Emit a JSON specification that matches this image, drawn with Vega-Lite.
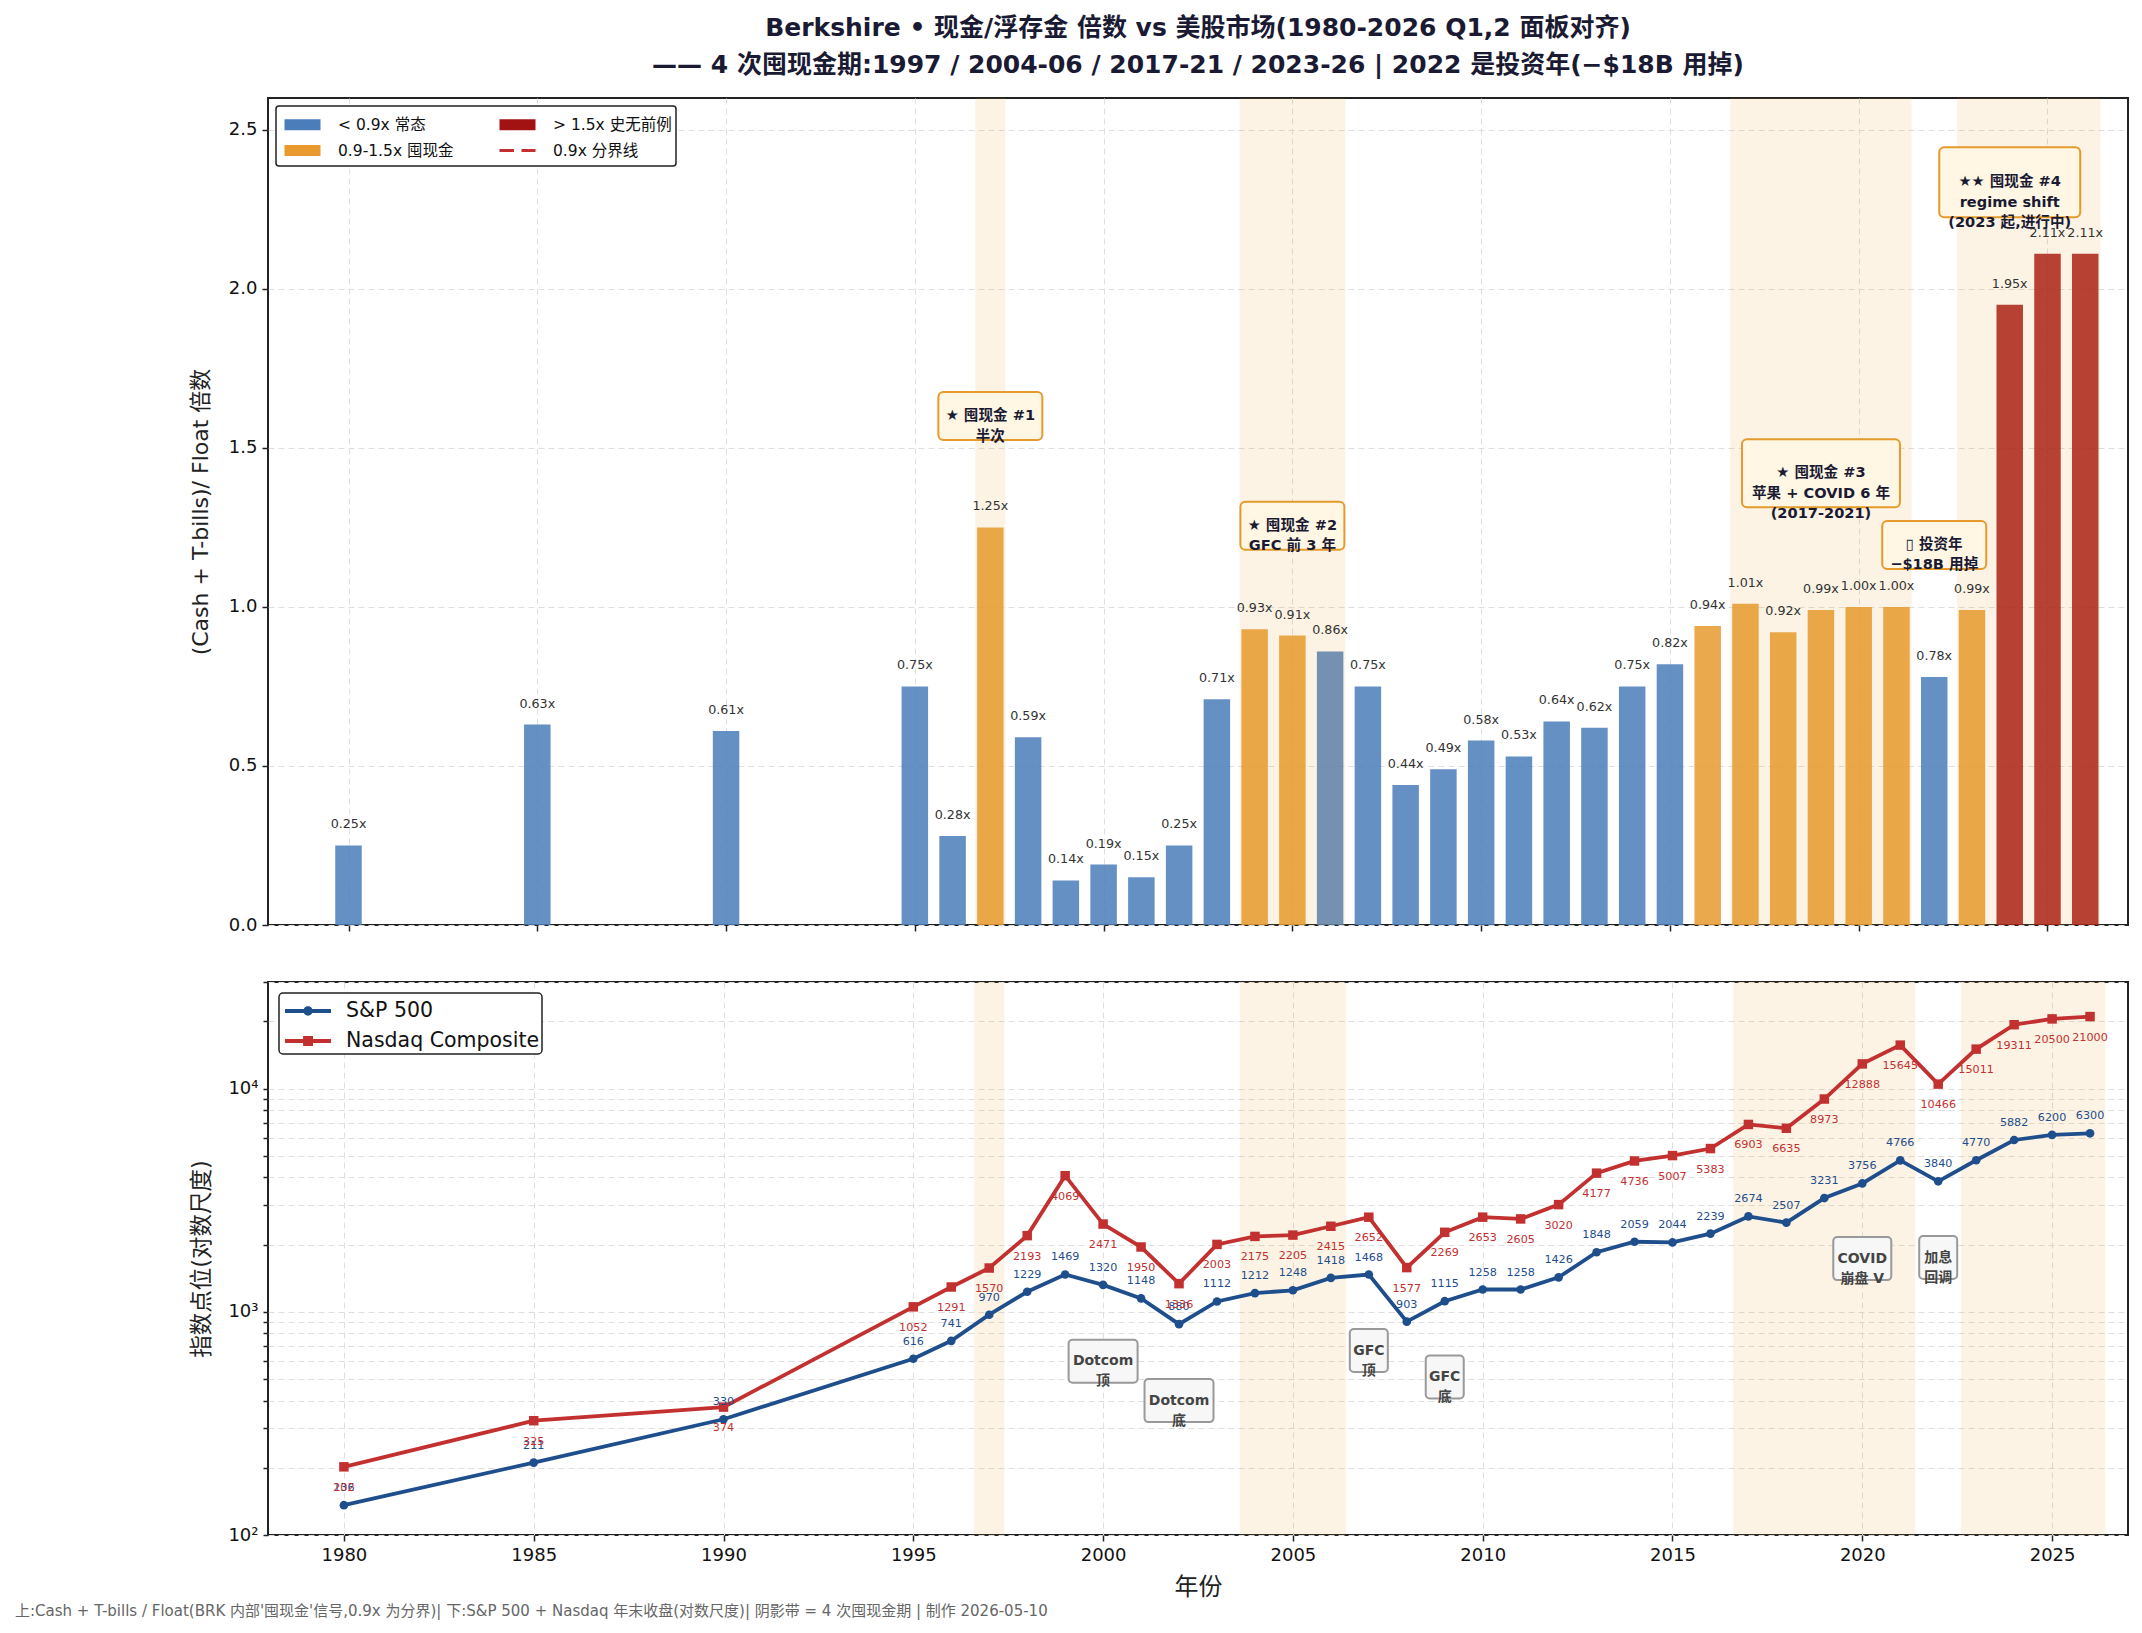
{
  "$schema": "https://vega.github.io/schema/vega-lite/v6.json",
  "background": "white",
  "padding": {"left": 15, "top": 15, "right": 15, "bottom": 8},
  "config": {
    "font": "DejaVu Sans, Noto Sans CJK SC",
    "view": {"stroke": "#222", "strokeWidth": 2},
    "axis": {"domain": false, "labelFontSize": 18, "labelColor": "#111", "titleFontSize": 22, "titleFontWeight": "normal", "titleColor": "#222", "tickColor": "#222", "tickWidth": 1.5, "tickSize": 6, "gridColor": "#dedede", "gridDash": [6, 4], "gridWidth": 1, "labelPadding": 5, "labelOverlap": false}
  },
  "title": {
    "text": "上:Cash + T-bills / Float(BRK 内部'囤现金'信号,0.9x 为分界)| 下:S&P 500 + Nasdaq 年末收盘(对数尺度)| 阴影带 = 4 次囤现金期 | 制作 2026-05-10",
    "orient": "bottom", "anchor": "start", "frame": "bounds", "fontSize": 15, "fontWeight": "normal", "color": "#666", "offset": 4, "dx": -173
  },
  "datasets": {
    "ratio": [
      {"year": 1980, "ratio": 0.25, "regime": "< 0.9x 常态"},
      {"year": 1985, "ratio": 0.63, "regime": "< 0.9x 常态"},
      {"year": 1990, "ratio": 0.61, "regime": "< 0.9x 常态"},
      {"year": 1995, "ratio": 0.75, "regime": "< 0.9x 常态"},
      {"year": 1996, "ratio": 0.28, "regime": "< 0.9x 常态"},
      {"year": 1997, "ratio": 1.25, "regime": "0.9-1.5x 囤现金"},
      {"year": 1998, "ratio": 0.59, "regime": "< 0.9x 常态"},
      {"year": 1999, "ratio": 0.14, "regime": "< 0.9x 常态"},
      {"year": 2000, "ratio": 0.19, "regime": "< 0.9x 常态"},
      {"year": 2001, "ratio": 0.15, "regime": "< 0.9x 常态"},
      {"year": 2002, "ratio": 0.25, "regime": "< 0.9x 常态"},
      {"year": 2003, "ratio": 0.71, "regime": "< 0.9x 常态"},
      {"year": 2004, "ratio": 0.93, "regime": "0.9-1.5x 囤现金"},
      {"year": 2005, "ratio": 0.91, "regime": "0.9-1.5x 囤现金"},
      {"year": 2006, "ratio": 0.86, "regime": "< 0.9x 常态"},
      {"year": 2007, "ratio": 0.75, "regime": "< 0.9x 常态"},
      {"year": 2008, "ratio": 0.44, "regime": "< 0.9x 常态"},
      {"year": 2009, "ratio": 0.49, "regime": "< 0.9x 常态"},
      {"year": 2010, "ratio": 0.58, "regime": "< 0.9x 常态"},
      {"year": 2011, "ratio": 0.53, "regime": "< 0.9x 常态"},
      {"year": 2012, "ratio": 0.64, "regime": "< 0.9x 常态"},
      {"year": 2013, "ratio": 0.62, "regime": "< 0.9x 常态"},
      {"year": 2014, "ratio": 0.75, "regime": "< 0.9x 常态"},
      {"year": 2015, "ratio": 0.82, "regime": "< 0.9x 常态"},
      {"year": 2016, "ratio": 0.94, "regime": "0.9-1.5x 囤现金"},
      {"year": 2017, "ratio": 1.01, "regime": "0.9-1.5x 囤现金"},
      {"year": 2018, "ratio": 0.92, "regime": "0.9-1.5x 囤现金"},
      {"year": 2019, "ratio": 0.99, "regime": "0.9-1.5x 囤现金"},
      {"year": 2020, "ratio": 1.00, "regime": "0.9-1.5x 囤现金"},
      {"year": 2021, "ratio": 1.00, "regime": "0.9-1.5x 囤现金"},
      {"year": 2022, "ratio": 0.78, "regime": "< 0.9x 常态"},
      {"year": 2023, "ratio": 0.99, "regime": "0.9-1.5x 囤现金"},
      {"year": 2024, "ratio": 1.95, "regime": "> 1.5x 史无前例"},
      {"year": 2025, "ratio": 2.11, "regime": "> 1.5x 史无前例"},
      {"year": 2026, "ratio": 2.11, "regime": "> 1.5x 史无前例"}
    ],
    "bands": [
      {"start": 1996.6, "end": 1997.4},
      {"start": 2003.6, "end": 2006.4},
      {"start": 2016.6, "end": 2021.4},
      {"start": 2022.6, "end": 2026.4}
    ],
    "topnotes": [
      {"year": 1997, "level": 1.6, "note": ["★ 囤现金 #1", "半次"]},
      {"year": 2005, "level": 1.255, "note": ["★ 囤现金 #2", "GFC 前 3 年"]},
      {"year": 2019, "level": 1.42, "note": ["★ 囤现金 #3", "苹果 + COVID 6 年", "(2017-2021)"]},
      {"year": 2022, "level": 1.195, "note": ["▯ 投资年", "−$18B 用掉"]},
      {"year": 2024, "level": 2.335, "note": ["★★ 囤现金 #4", "regime shift", "(2023 起,进行中)"]}
    ],
    "index": [
      {"year": 1980, "series": "S&P 500", "value": 136},
      {"year": 1985, "series": "S&P 500", "value": 211},
      {"year": 1990, "series": "S&P 500", "value": 330},
      {"year": 1995, "series": "S&P 500", "value": 616},
      {"year": 1996, "series": "S&P 500", "value": 741},
      {"year": 1997, "series": "S&P 500", "value": 970},
      {"year": 1998, "series": "S&P 500", "value": 1229},
      {"year": 1999, "series": "S&P 500", "value": 1469},
      {"year": 2000, "series": "S&P 500", "value": 1320},
      {"year": 2001, "series": "S&P 500", "value": 1148},
      {"year": 2002, "series": "S&P 500", "value": 880},
      {"year": 2003, "series": "S&P 500", "value": 1112},
      {"year": 2004, "series": "S&P 500", "value": 1212},
      {"year": 2005, "series": "S&P 500", "value": 1248},
      {"year": 2006, "series": "S&P 500", "value": 1418},
      {"year": 2007, "series": "S&P 500", "value": 1468},
      {"year": 2008, "series": "S&P 500", "value": 903},
      {"year": 2009, "series": "S&P 500", "value": 1115},
      {"year": 2010, "series": "S&P 500", "value": 1258},
      {"year": 2011, "series": "S&P 500", "value": 1258},
      {"year": 2012, "series": "S&P 500", "value": 1426},
      {"year": 2013, "series": "S&P 500", "value": 1848},
      {"year": 2014, "series": "S&P 500", "value": 2059},
      {"year": 2015, "series": "S&P 500", "value": 2044},
      {"year": 2016, "series": "S&P 500", "value": 2239},
      {"year": 2017, "series": "S&P 500", "value": 2674},
      {"year": 2018, "series": "S&P 500", "value": 2507},
      {"year": 2019, "series": "S&P 500", "value": 3231},
      {"year": 2020, "series": "S&P 500", "value": 3756},
      {"year": 2021, "series": "S&P 500", "value": 4766},
      {"year": 2022, "series": "S&P 500", "value": 3840},
      {"year": 2023, "series": "S&P 500", "value": 4770},
      {"year": 2024, "series": "S&P 500", "value": 5882},
      {"year": 2025, "series": "S&P 500", "value": 6200},
      {"year": 2026, "series": "S&P 500", "value": 6300},
      {"year": 1980, "series": "Nasdaq Composite", "value": 202},
      {"year": 1985, "series": "Nasdaq Composite", "value": 325},
      {"year": 1990, "series": "Nasdaq Composite", "value": 374},
      {"year": 1995, "series": "Nasdaq Composite", "value": 1052},
      {"year": 1996, "series": "Nasdaq Composite", "value": 1291},
      {"year": 1997, "series": "Nasdaq Composite", "value": 1570},
      {"year": 1998, "series": "Nasdaq Composite", "value": 2193},
      {"year": 1999, "series": "Nasdaq Composite", "value": 4069},
      {"year": 2000, "series": "Nasdaq Composite", "value": 2471},
      {"year": 2001, "series": "Nasdaq Composite", "value": 1950},
      {"year": 2002, "series": "Nasdaq Composite", "value": 1336},
      {"year": 2003, "series": "Nasdaq Composite", "value": 2003},
      {"year": 2004, "series": "Nasdaq Composite", "value": 2175},
      {"year": 2005, "series": "Nasdaq Composite", "value": 2205},
      {"year": 2006, "series": "Nasdaq Composite", "value": 2415},
      {"year": 2007, "series": "Nasdaq Composite", "value": 2652},
      {"year": 2008, "series": "Nasdaq Composite", "value": 1577},
      {"year": 2009, "series": "Nasdaq Composite", "value": 2269},
      {"year": 2010, "series": "Nasdaq Composite", "value": 2653},
      {"year": 2011, "series": "Nasdaq Composite", "value": 2605},
      {"year": 2012, "series": "Nasdaq Composite", "value": 3020},
      {"year": 2013, "series": "Nasdaq Composite", "value": 4177},
      {"year": 2014, "series": "Nasdaq Composite", "value": 4736},
      {"year": 2015, "series": "Nasdaq Composite", "value": 5007},
      {"year": 2016, "series": "Nasdaq Composite", "value": 5383},
      {"year": 2017, "series": "Nasdaq Composite", "value": 6903},
      {"year": 2018, "series": "Nasdaq Composite", "value": 6635},
      {"year": 2019, "series": "Nasdaq Composite", "value": 8973},
      {"year": 2020, "series": "Nasdaq Composite", "value": 12888},
      {"year": 2021, "series": "Nasdaq Composite", "value": 15645},
      {"year": 2022, "series": "Nasdaq Composite", "value": 10466},
      {"year": 2023, "series": "Nasdaq Composite", "value": 15011},
      {"year": 2024, "series": "Nasdaq Composite", "value": 19311},
      {"year": 2025, "series": "Nasdaq Composite", "value": 20500},
      {"year": 2026, "series": "Nasdaq Composite", "value": 21000}
    ],
    "bottomnotes": [
      {"year": 2000, "value": 600, "note": ["Dotcom", "顶"]},
      {"year": 2002, "value": 400, "note": ["Dotcom", "底"]},
      {"year": 2007, "value": 670, "note": ["GFC", "顶"]},
      {"year": 2009, "value": 510, "note": ["GFC", "底"]},
      {"year": 2020, "value": 1730, "note": ["COVID", "崩盘 V"]},
      {"year": 2022, "value": 1750, "note": ["加息", "回调"]}
    ]
  },
  "resolve": {"scale": {"color": "independent"}, "legend": {"color": "independent"}},
  "spacing": 37,
  "vconcat": [
    {
      "width": 1860,
      "height": 827,
      "title": {
        "text": ["Berkshire • 现金/浮存金 倍数 vs 美股市场(1980-2026 Q1,2 面板对齐)", "—— 4 次囤现金期:1997 / 2004-06 / 2017-21 / 2023-26 |  2022 是投资年(−$18B 用掉)"],
        "fontSize": 25, "fontWeight": "bold", "color": "#1a1a33", "lineHeight": 37, "anchor": "middle", "frame": "group", "offset": 20
      },
      "layer": [
        {
          "data": {"name": "ratio"},
          "mark": {"type": "bar", "size": 26.5, "opacity": 0.85},
          "encoding": {
            "x": {"field": "year", "type": "quantitative", "scale": {"domain": [1978, 2027], "nice": false, "zero": false},
              "axis": {"values": [1980, 1985, 1990, 1995, 2000, 2005, 2010, 2015, 2020, 2025], "labels": false, "title": null, "grid": true, "minExtent": 0, "maxExtent": 6}},
            "y": {"field": "ratio", "type": "quantitative", "scale": {"domain": [0, 2.6], "nice": false},
              "axis": {"values": [0, 0.5, 1, 1.5, 2, 2.5], "format": ".1f", "title": "(Cash + T-bills)/ Float 倍数", "minExtent": 40, "maxExtent": 40, "titlePadding": 16}},
            "color": {"field": "regime", "type": "nominal",
              "scale": {"domain": ["< 0.9x 常态", "0.9-1.5x 囤现金", "> 1.5x 史无前例", "0.9x 分界线"], "range": ["#4a7dba", "#e89a2e", "#a31212", "#c62f2f"]},
              "legend": {
                "title": null, "orient": "top-left", "offset": 8, "columns": 2, "columnPadding": 39, "rowPadding": 0,
                "labelFontSize": 15.5, "labelColor": "#111", "labelOffset": 29, "labelLimit": 300,
                "symbolSize": 676, "symbolType": "M-0.77,-0.42H2V0.42H-0.77Z", "symbolOpacity": 1, "symbolStrokeWidth": 0,
                "fillColor": "white", "strokeColor": "#222", "padding": 4,
                "encode": {
                  "legend": {"update": {"strokeWidth": {"value": 1.5}, "cornerRadius": {"value": 3}}},
                  "symbols": {"update": {
                    "shape": {"signal": "datum.value === '0.9x 分界线' ? 'M-0.77,0H2' : 'M-0.77,-0.42H2V0.42H-0.77Z'"},
                    "fill": {"signal": "datum.value === '< 0.9x 常态' ? '#4a7dba' : datum.value === '> 1.5x 史无前例' ? '#a31212' : datum.value === '0.9-1.5x 囤现金' ? '#e89a2e' : 'transparent'"},
                    "stroke": {"signal": "datum.value === '0.9x 分界线' ? '#c62f2f' : 'transparent'"},
                    "strokeWidth": {"value": 2.8},
                    "strokeDash": {"signal": "datum.value === '0.9x 分界线' ? [14.5, 7.5] : [1, 0]"}
                  }}
                }
              }}
          }
        },
        {
          "data": {"name": "bands"},
          "mark": {"type": "rect", "color": "#e59a2b", "opacity": 0.12},
          "encoding": {"x": {"field": "start", "type": "quantitative"}, "x2": {"field": "end"}}
        },
        {
          "mark": {"type": "rule", "color": "#b5b5b5", "strokeWidth": 1.3, "strokeDash": [2, 2]},
          "encoding": {"y": {"datum": 1}}
        },
        {
          "mark": {"type": "rule", "color": "#b5b5b5", "strokeWidth": 1.3, "strokeDash": [2, 2]},
          "encoding": {"y": {"datum": 2}}
        },
        {
          "mark": {"type": "rule", "color": "#c62f2f", "strokeWidth": 3, "strokeDash": [14, 7]},
          "encoding": {"y": {"datum": 0.9}}
        },
        {
          "data": {"name": "ratio"},
          "mark": {"type": "text", "fontSize": 12.7, "color": "#333", "baseline": "middle", "dy": -21, "text": {"expr": "format(datum.ratio, '.2f') + 'x'"}},
          "encoding": {"x": {"field": "year", "type": "quantitative"}, "y": {"field": "ratio", "type": "quantitative"}}
        },
        {
          "data": {"name": "topnotes"},
          "transform": [{"filter": {"field": "year", "oneOf": [1997, 2005, 2022]}}],
          "mark": {"type": "rect", "width": 104, "height": 48, "fill": "#fff6e3", "stroke": "#e59a2b", "strokeWidth": 2, "cornerRadius": 5},
          "encoding": {"x": {"field": "year", "type": "quantitative"}, "y": {"field": "level", "type": "quantitative"}}
        },
        {
          "data": {"name": "topnotes"},
          "transform": [{"filter": {"field": "year", "equal": 2019}}],
          "mark": {"type": "rect", "width": 158, "height": 68, "fill": "#fff6e3", "stroke": "#e59a2b", "strokeWidth": 2, "cornerRadius": 5},
          "encoding": {"x": {"field": "year", "type": "quantitative"}, "y": {"field": "level", "type": "quantitative"}}
        },
        {
          "data": {"name": "topnotes"},
          "transform": [{"filter": {"field": "year", "equal": 2024}}],
          "mark": {"type": "rect", "width": 141, "height": 70, "fill": "#fff6e3", "stroke": "#e59a2b", "strokeWidth": 2, "cornerRadius": 5},
          "encoding": {"x": {"field": "year", "type": "quantitative"}, "y": {"field": "level", "type": "quantitative"}}
        },
        {
          "data": {"name": "topnotes"},
          "mark": {"type": "text", "fontSize": 14.6, "fontWeight": "bold", "lineHeight": 20.5, "color": "#1a1a33", "baseline": "middle"},
          "encoding": {"x": {"field": "year", "type": "quantitative"}, "y": {"field": "level", "type": "quantitative"}, "text": {"field": "note"}}
        }
      ]
    },
    {
      "width": 1860,
      "height": 553,
      "layer": [
        {
          "data": {"name": "bands"},
          "mark": {"type": "rect", "color": "#e59a2b", "opacity": 0.12},
          "encoding": {"x": {"field": "start", "type": "quantitative", "scale": {"domain": [1978, 2027], "nice": false, "zero": false}}, "x2": {"field": "end"}}
        },
        {
          "data": {"name": "index"},
          "mark": {"type": "line", "strokeWidth": 3.8},
          "encoding": {
            "x": {"field": "year", "type": "quantitative", "scale": {"domain": [1978, 2027], "nice": false, "zero": false},
              "axis": {"values": [1980, 1985, 1990, 1995, 2000, 2005, 2010, 2015, 2020, 2025], "format": "d", "title": "年份", "titleFontSize": 24, "titlePadding": 11, "grid": true}},
            "y": {"field": "value", "type": "quantitative", "scale": {"type": "log", "domain": [100, 30000], "nice": false},
              "axis": {"values": [100, 200, 300, 400, 500, 600, 700, 800, 900, 1000, 2000, 3000, 4000, 5000, 6000, 7000, 8000, 9000, 10000, 20000, 30000],
                "labelExpr": "datum.value == 100 ? '10²' : datum.value == 1000 ? '10³' : datum.value == 10000 ? '10⁴' : ''",
                "title": "指数点位(对数尺度)", "titleFontSize": 22.5, "minExtent": 40, "maxExtent": 40, "titlePadding": 15, "tickSize": 5}},
            "color": {"field": "series", "type": "nominal",
              "scale": {"domain": ["S&P 500", "Nasdaq Composite"], "range": ["#1f4e8c", "#c33030"]},
              "legend": {
                "title": null, "orient": "top-left", "offset": 11, "labelFontSize": 20.5, "labelColor": "#111", "labelOffset": 33, "labelLimit": 400,
                "symbolSize": 1024, "rowPadding": 3, "fillColor": "white", "strokeColor": "#222", "padding": 2,
                "encode": {
                  "legend": {"update": {"strokeWidth": {"value": 1.5}, "cornerRadius": {"value": 4}}},
                  "symbols": {"update": {
                    "shape": {"signal": "datum.value === 'S&P 500' ? 'M-0.75,-0.12H2.125V0.12H-0.75Z M0.98,0A0.29,0.29 0 1,1 0.4,0A0.29,0.29 0 1,1 0.98,0Z' : 'M-0.75,-0.12H2.125V0.12H-0.75Z M0.38,-0.31H1V0.31H0.38Z'"},
                    "fill": {"signal": "datum.value === 'S&P 500' ? '#1f4e8c' : '#c33030'"},
                    "fillOpacity": {"value": 1},
                    "stroke": {"value": "transparent"},
                    "strokeWidth": {"value": 0}
                  }}
                }
              }}
          }
        },
        {
          "data": {"name": "index"},
          "transform": [{"filter": {"field": "series", "equal": "S&P 500"}}],
          "mark": {"type": "point", "shape": "circle", "filled": true, "opacity": 1, "size": 75, "color": "#1f4e8c"},
          "encoding": {"x": {"field": "year", "type": "quantitative"}, "y": {"field": "value", "type": "quantitative"}}
        },
        {
          "data": {"name": "index"},
          "transform": [{"filter": {"field": "series", "equal": "Nasdaq Composite"}}],
          "mark": {"type": "point", "shape": "square", "filled": true, "opacity": 1, "size": 90, "color": "#c33030"},
          "encoding": {"x": {"field": "year", "type": "quantitative"}, "y": {"field": "value", "type": "quantitative"}}
        },
        {
          "data": {"name": "index"},
          "transform": [{"filter": {"field": "series", "equal": "S&P 500"}}],
          "mark": {"type": "text", "fontSize": 11.2, "color": "#1f4e8c", "baseline": "middle", "dy": -17},
          "encoding": {"x": {"field": "year", "type": "quantitative"}, "y": {"field": "value", "type": "quantitative"}, "text": {"field": "value", "type": "quantitative", "format": "d"}}
        },
        {
          "data": {"name": "index"},
          "transform": [{"filter": {"field": "series", "equal": "Nasdaq Composite"}}],
          "mark": {"type": "text", "fontSize": 11.2, "color": "#c33030", "baseline": "middle", "dy": 21},
          "encoding": {"x": {"field": "year", "type": "quantitative"}, "y": {"field": "value", "type": "quantitative"}, "text": {"field": "value", "type": "quantitative", "format": "d"}}
        },
        {
          "data": {"name": "bottomnotes"},
          "transform": [{"filter": {"field": "year", "oneOf": [2000, 2002]}}],
          "mark": {"type": "rect", "width": 69, "height": 43, "fill": "#f7f7f7", "stroke": "#999", "strokeWidth": 2, "cornerRadius": 4},
          "encoding": {"x": {"field": "year", "type": "quantitative"}, "y": {"field": "value", "type": "quantitative"}}
        },
        {
          "data": {"name": "bottomnotes"},
          "transform": [{"filter": {"field": "year", "oneOf": [2007, 2009, 2022]}}],
          "mark": {"type": "rect", "width": 38, "height": 43, "fill": "#f7f7f7", "stroke": "#999", "strokeWidth": 2, "cornerRadius": 4},
          "encoding": {"x": {"field": "year", "type": "quantitative"}, "y": {"field": "value", "type": "quantitative"}}
        },
        {
          "data": {"name": "bottomnotes"},
          "transform": [{"filter": {"field": "year", "equal": 2020}}],
          "mark": {"type": "rect", "width": 58, "height": 43, "fill": "#f7f7f7", "stroke": "#999", "strokeWidth": 2, "cornerRadius": 4},
          "encoding": {"x": {"field": "year", "type": "quantitative"}, "y": {"field": "value", "type": "quantitative"}}
        },
        {
          "data": {"name": "bottomnotes"},
          "mark": {"type": "text", "fontSize": 14, "fontWeight": "bold", "lineHeight": 20, "color": "#444", "baseline": "middle"},
          "encoding": {"x": {"field": "year", "type": "quantitative"}, "y": {"field": "value", "type": "quantitative"}, "text": {"field": "note"}}
        }
      ]
    }
  ]
}
